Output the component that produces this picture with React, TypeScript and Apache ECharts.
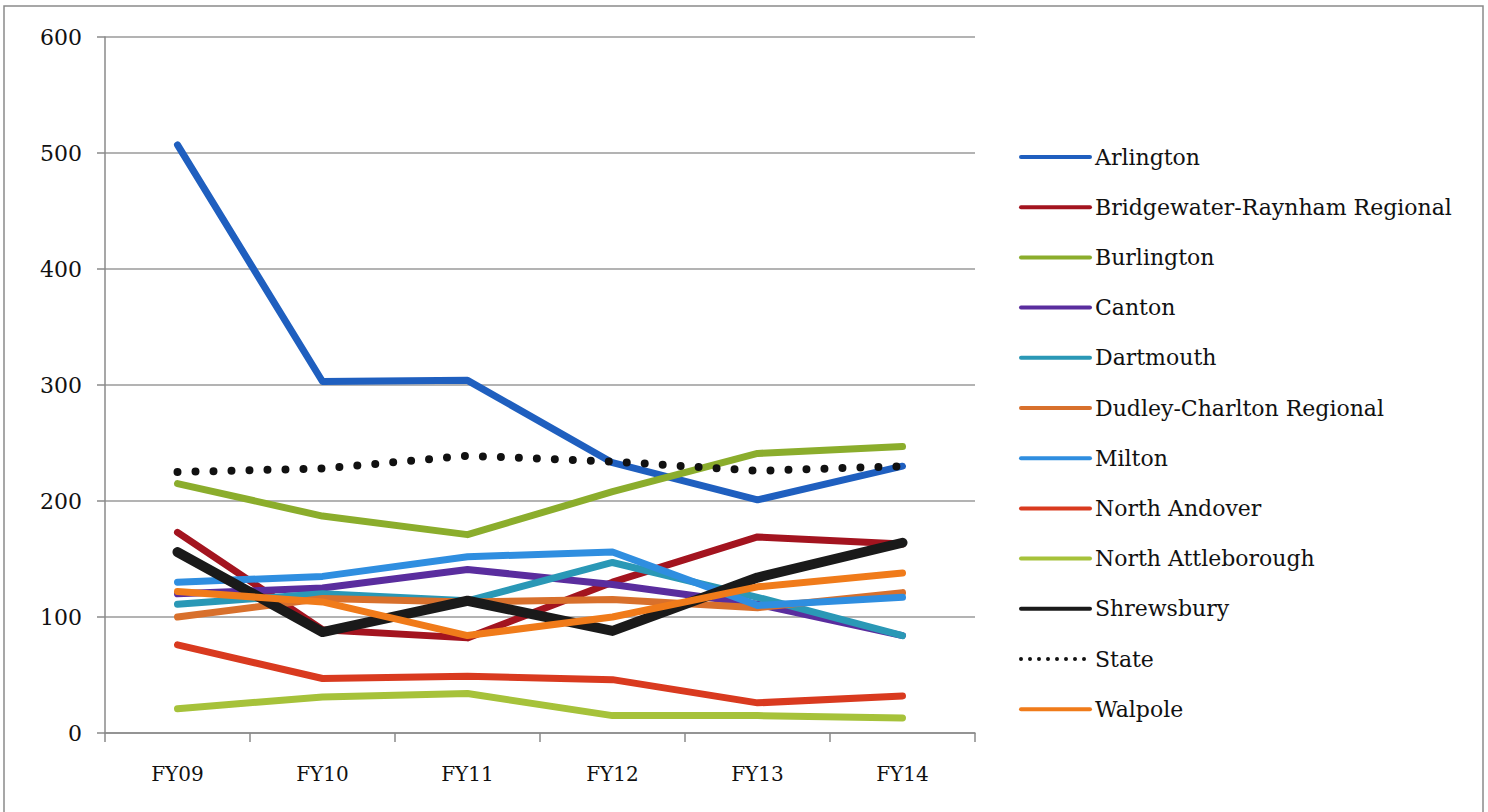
import React, { useEffect, useRef } from "react";
import * as echarts from "echarts";

const categories = ["FY09", "FY10", "FY11", "FY12", "FY13", "FY14"];
const yTicks = [0, 100, 200, 300, 400, 500, 600];

const arlington = [507, 303, 304, 233, 201, 230];
const bridgewater = [173, 89, 82, 130, 169, 163];
const burlington = [215, 187, 171, 208, 241, 247];
const canton = [120, 125, 141, 128, 111, 84];
const dartmouth = [111, 120, 114, 147, 117, 84];
const dudley = [100, 116, 113, 115, 108, 121];
const milton = [130, 135, 152, 156, 110, 117];
const northAndover = [76, 47, 49, 46, 26, 32];
const northAttleborough = [21, 31, 34, 15, 15, 13];
const shrewsbury = [156, 87, 114, 88, 134, 164];
const state = [225, 228, 239, 234, 226, 230];
const walpole = [122, 113, 84, 100, 126, 138];

const seriesNames = [
  "Arlington",
  "Bridgewater-Raynham Regional",
  "Burlington",
  "Canton",
  "Dartmouth",
  "Dudley-Charlton Regional",
  "Milton",
  "North Andover",
  "North Attleborough",
  "Shrewsbury",
  "State",
  "Walpole",
];
const seriesData = [
  arlington, bridgewater, burlington, canton, dartmouth, dudley,
  milton, northAndover, northAttleborough, shrewsbury, state, walpole,
];
const seriesColors = [
  "#1f5fbf", "#a3141f", "#8bad2c", "#5a2d9e", "#2a98b6", "#d8702c",
  "#2f8ee0", "#d93a1f", "#a6c23a", "#1a1a1a", "#111111", "#f07b1a",
];

const FONT = "DejaVu Serif";

export default function App() {
  const ref = useRef<HTMLDivElement>(null);
  useEffect(() => {
    const chart = echarts.init(ref.current!, null, { renderer: "svg" });
    const series = seriesNames.map((name, i) => {
      const isState = name === "State";
      const isShrews = name === "Shrewsbury";
      return {
        name,
        type: "line",
        data: seriesData[i],
        symbol: "none",
        showSymbol: false,
        lineStyle: isState
          ? { color: seriesColors[i], width: 8, type: [0, 18], cap: "round" }
          : { color: seriesColors[i], width: isShrews ? 10 : 7, cap: "round", join: "round" },
        itemStyle: { color: seriesColors[i] },
      };
    });
    chart.setOption({
      animation: false,
      backgroundColor: "#ffffff",
      graphic: [
        {
          type: "rect",
          shape: { x: 4, y: 6, width: 1479, height: 830 },
          style: { fill: "none", stroke: "#8a8a8a", lineWidth: 1.5 },
          silent: true,
        },
      ],
      grid: { left: 105, top: 37, width: 870, height: 696 },
      legend: {
        orient: "vertical",
        left: 1019,
        top: 146,
        padding: 0,
        itemWidth: 69,
        itemHeight: 20,
        itemGap: 28.2,
        itemStyle: { opacity: 0, borderWidth: 0 },
        data: seriesNames.map((n) =>
          n === "State"
            ? { name: n, lineStyle: { width: 4, type: [0, 9], cap: "round", color: "#111" } }
            : { name: n, lineStyle: { width: 4 } }
        ),
        textStyle: { fontFamily: FONT, fontSize: 22, color: "#111", lineHeight: 22 },
      },
      xAxis: {
        type: "category",
        data: categories,
        boundaryGap: true,
        axisLine: { lineStyle: { color: "#8a8a8a", width: 1.5 } },
        axisTick: { show: true, length: 9, lineStyle: { color: "#8a8a8a", width: 1.5 } },
        axisLabel: { fontFamily: FONT, fontSize: 20, color: "#111", margin: 31 },
      },
      yAxis: {
        type: "value",
        min: yTicks[0],
        max: yTicks[yTicks.length - 1],
        interval: 100,
        axisLine: { show: true, lineStyle: { color: "#8a8a8a", width: 1.5 } },
        axisTick: { show: true, length: 8, lineStyle: { color: "#8a8a8a", width: 1.5 } },
        splitLine: { lineStyle: { color: "#9a9a9a", width: 1.5 } },
        axisLabel: { fontFamily: FONT, fontSize: 22, color: "#111", margin: 23 },
      },
      series,
    });
    return () => chart.dispose();
  }, []);
  return (
    <div
      ref={ref}
      style={{ position: "absolute", left: 0, top: 0, width: 1488, height: 812 }}
    />
  );
}
